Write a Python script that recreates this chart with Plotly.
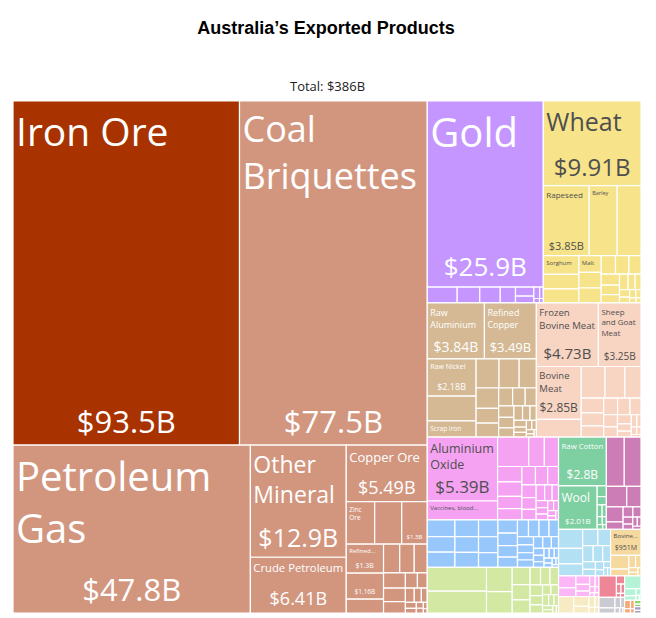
import plotly.graph_objects as go

TITLE = "<b>Australia’s Exported Products</b>"
FONT = "Open Sans"

# ---- data: one pair of lists per HS section (values in $B) ----
mineral_names = [
    "Iron Ore", "Coal Briquettes", "Petroleum Gas", "Other Mineral", "Crude Petroleum",
    "Copper Ore", "Zinc Ore", "Titanium Ore", "Manganese Ore", "Refined Petroleum",
    "Lead Ore", "Salt", "Precious Metal Ore", "Rare Earth Ore", "Coke", "Tungsten Ore",
    "Cement", "Molybdenum Ore", "Gypsum", "Kaolin", "Sand", "Limestone", "Slag",
    "Sulphur", "Granite", "Lignite", "Quartz", "Talc", "Clays",
]
mineral_values = [
    93.5, 77.5, 47.8, 12.9, 6.41, 5.49, 1.45, 1.38, 1.302, 1.298, 1.16, 0.62, 0.56,
    0.5, 0.45, 0.4, 0.35, 0.3, 0.22, 0.18, 0.15, 0.12, 0.1, 0.08, 0.06, 0.05, 0.04,
    0.03, 0.02,
]

precious_names = [
    "Gold", "Precious Metal Scrap", "Platinum", "Silver", "Jewellery", "Diamonds",
    "Precious Stones", "Pearls", "Imitation Jewellery", "Gold Clad Metals", "Coin",
]
precious_values = [25.9, 0.57, 0.43, 0.39, 0.29, 0.2, 0.15, 0.08, 0.05, 0.03, 0.02]

vegetable_names = [
    "Wheat", "Rapeseed", "Barley", "Dried Legumes", "Sorghum", "Oats", "Citrus", "Malt",
    "Nuts", "Cotton Seed", "Grapes", "Other Fruits", "Rice", "Fodder", "Flours",
    "Seeds", "Onions", "Potatoes", "Spices", "Hops", "Tea", "Coffee", "Cut Flowers",
    "Live Plants", "Other Vegetables",
]
vegetable_values = [
    9.91, 3.85, 2.35, 2.0, 0.8, 0.62, 0.6, 0.45, 0.42, 0.4, 0.32, 0.3, 0.27, 0.24,
    0.21, 0.18, 0.16, 0.13, 0.11, 0.09, 0.07, 0.06, 0.05, 0.04, 0.03,
]

metal_names = [
    "Raw Aluminium", "Refined Copper", "Raw Nickel", "Ferroalloys", "Scrap Iron",
    "Raw Zinc", "Raw Lead", "Semi-Finished Iron", "Iron Blocks", "Aluminium Plating",
    "Hot-Rolled Iron", "Scrap Aluminium", "Scrap Copper", "Aluminium Structures",
    "Iron Structures", "Titanium", "Iron Pipes", "Hand Tools", "Aluminium Bars",
    "Copper Wire", "Iron Fasteners", "Coated Flat-Rolled Iron", "Tin", "Cobalt",
    "Iron Wire", "Aluminium Foil", "Scrap Lead", "Tungsten",
]
metal_values = [
    3.84, 3.49, 2.18, 1.45, 0.95, 0.8, 0.7, 0.6, 0.55, 0.4, 0.38, 0.3, 0.27, 0.24,
    0.21, 0.19, 0.17, 0.15, 0.13, 0.11, 0.1, 0.08, 0.07, 0.06, 0.05, 0.04, 0.03, 0.02,
]

animal_names = [
    "Frozen Bovine Meat", "Sheep and Goat Meat", "Bovine Meat", "Concentrated Milk",
    "Crustaceans", "Cheese", "Edible Offal", "Molluscs", "Pig Meat", "Live Sheep",
    "Butter", "Fish Fillets", "Whey", "Honey", "Eggs", "Poultry Meat",
    "Non-fillet Frozen Fish", "Horses", "Animal Hair", "Milk", "Processed Fish",
    "Yogurt", "Animal Organs",
]
animal_values = [
    4.73, 3.25, 2.85, 0.95, 0.9, 0.75, 0.61, 0.4, 0.35, 0.3, 0.28, 0.25, 0.22, 0.2,
    0.17, 0.15, 0.12, 0.1, 0.08, 0.06, 0.05, 0.04, 0.03,
]

chemical_names = [
    "Aluminium Oxide", "Vaccines, blood, antisera, toxins and cultures",
    "Packaged Medicaments", "Radioactive Chemicals", "Hair Products", "Beauty Products",
    "Cleaning Products", "Pesticides", "Ammonia", "Antibiotics", "Essential Oils",
    "Insecticides", "Sodium Hydroxide", "Titanium Oxides", "Activated Carbon",
    "Animal Extracts", "Perfumes", "Soap", "Paints", "Glues", "Explosives", "Vitamins",
    "Enzymes", "Hormones", "Dental Products", "Ink",
]
chemical_values = [
    5.39, 1.6, 1.1, 0.55, 0.5, 0.45, 0.42, 0.36, 0.33, 0.3, 0.27, 0.24, 0.22, 0.2,
    0.18, 0.16, 0.14, 0.12, 0.1, 0.09, 0.08, 0.07, 0.06, 0.05, 0.04, 0.03,
]

machine_names = [
    "Centrifuges", "Computers", "Valves", "Gas Turbines", "Excavation Machinery",
    "Broadcasting Equipment", "Liquid Pumps", "Telephones", "Electric Generators",
    "Integrated Circuits", "Air Pumps", "Spark-Ignition Engines",
    "Electrical Control Boards", "Low-voltage Protection Equipment",
    "Machinery Having Individual Functions", "Lifting Machinery", "Computer Parts",
    "Heat Exchangers", "Air Conditioners", "Electric Motors", "Transformers",
    "Insulated Wire", "Printers", "Harvesting Machinery", "Industrial Printers",
    "Water Heaters", "Refrigerators", "Office Machine Parts", "Ball Bearings",
    "Batteries", "Electric Filament", "Washing Machines", "Microphones",
    "Video Displays", "Blank Audio Media",
]
machine_values = [
    0.55, 0.52, 0.5, 0.47, 0.45, 0.42, 0.39, 0.37, 0.34, 0.31, 0.29, 0.27, 0.24, 0.22,
    0.21, 0.2, 0.19, 0.16, 0.15, 0.14, 0.14, 0.13, 0.12, 0.1, 0.09, 0.08, 0.07, 0.06,
    0.06, 0.05, 0.05, 0.04, 0.03, 0.02, 0.02,
]

food_names = [
    "Wine", "Raw Sugar", "Animal Food", "Baked Goods", "Hard Liquor", "Fruit Juice",
    "Other Edible Preparations", "Malt Extract", "Processed Crustaceans",
    "Sauces and Seasonings", "Beer", "Chocolate", "Coffee and Tea Extracts",
    "Prepared Meat", "Pasta", "Tobacco", "Flavored Water", "Cereal Flakes",
    "Ice Cream", "Candy", "Vinegar", "Jams",
]
food_values = [
    1.7, 1.55, 0.75, 0.66, 0.37, 0.33, 0.28, 0.22, 0.2, 0.18, 0.16, 0.14, 0.12, 0.1,
    0.09, 0.08, 0.07, 0.06, 0.05, 0.04, 0.03, 0.02,
]

textile_names = [
    "Raw Cotton", "Wool", "Non-Retail Wool Yarn", "Knitted Sweaters", "Combed Wool",
    "Tents", "Rubber Textiles", "Non-Knit Suits", "Carpets", "Felt",
]
textile_values = [2.8, 2.01, 0.12, 0.09, 0.07, 0.06, 0.05, 0.04, 0.03, 0.02]

instrument_names = [
    "Orthopedic Appliances", "Medical Instruments", "Other Measuring Instruments",
    "Liquid Measurers", "Electrical Measuring Instruments", "X-Ray Equipment",
    "Optical Fibers", "Surveying Equipment", "Thermostats", "Lenses",
    "Photo Lab Equipment", "Watches", "Eyewear",
]
instrument_values = [1.06, 0.99, 0.5, 0.35, 0.3, 0.15, 0.12, 0.1, 0.08, 0.06, 0.05, 0.04, 0.03]

transport_names = [
    "Cars", "Aircraft Parts", "Vehicle Parts", "Planes, Helicopters", "Delivery Trucks",
    "Boats", "Tractors", "Trailers", "Railway Cargo Containers", "Motorcycles",
    "Buses", "Yachts", "Bicycles", "Railway Track Fixtures", "Special Purpose Vehicles",
]
transport_values = [
    0.55, 0.45, 0.35, 0.3, 0.25, 0.2, 0.18, 0.15, 0.12, 0.1, 0.08, 0.06, 0.05, 0.04, 0.03,
]

byproduct_names = [
    "Bovine, Sheep, and Goat Fat", "Rapeseed Oil", "Olive Oil", "Animal Fats",
    "Cotton Seed Oil", "Waxes", "Pig Fat", "Glycerol",
]
byproduct_values = [0.951, 0.3, 0.15, 0.1, 0.08, 0.05, 0.04, 0.03]

plastic_names = [
    "Rubber Tires", "Plastic Lids", "Ethylene Polymers", "Plastic Pipes",
    "Other Plastic Sheetings", "Raw Plastic Sheeting", "Propylene Polymers",
    "Scrap Plastic", "Rubber Belts", "Natural Rubber", "Synthetic Rubber",
]
plastic_values = [0.25, 0.18, 0.14, 0.11, 0.09, 0.07, 0.05, 0.04, 0.03, 0.02, 0.02]

paper_names = [
    "Printed Books", "Paper Containers", "Scrap Paper", "Chemical Woodpulp",
    "Other Printed Material", "Labels", "Newsprint",
]
paper_values = [0.3, 0.18, 0.12, 0.08, 0.05, 0.04, 0.03]

stone_names = ["Building Stone", "Glass Bottles", "Cement Articles", "Glass Fibers", "Ceramic Tiles", "Mica"]
stone_values = [0.45, 0.08, 0.05, 0.04, 0.02, 0.02]

misc_names = ["Prefabricated Buildings", "Seats", "Other Furniture", "Toys", "Brooms", "Pens", "Lighters"]
misc_values = [0.2, 0.1, 0.07, 0.05, 0.03, 0.02, 0.01]

wood_names = ["Sawn Wood", "Rough Wood", "Wood Chips", "Plywood", "Wood Carpentry", "Wood Charcoal"]
wood_values = [0.25, 0.1, 0.06, 0.04, 0.02, 0.01]

hide_names = ["Raw Hides", "Sheep Hides", "Leather", "Furskins"]
hide_values = [0.06, 0.04, 0.03, 0.02]

footwear_names = ["Leather Footwear", "Hats"]
footwear_values = [0.03, 0.02]

art_names = ["Paintings", "Antiques"]
art_values = [0.03, 0.02]

# section name, products, values, fill colour, text colour
WHITE = "white"
GREY = "#4f4f4f"
sections = [
    ("Mineral Products", mineral_names, mineral_values, "#D2967F", WHITE),
    ("Precious Metals", precious_names, precious_values, "#C596FF", WHITE),
    ("Vegetable Products", vegetable_names, vegetable_values, "#F7E38A", GREY),
    ("Metals", metal_names, metal_values, "#D5B994", WHITE),
    ("Animal Products", animal_names, animal_values, "#F8D4C3", GREY),
    ("Chemical Products", chemical_names, chemical_values, "#F5A2F2", GREY),
    ("Machines", machine_names, machine_values, "#98C8FB", WHITE),
    ("Foodstuffs", food_names, food_values, "#D2E8A3", GREY),
    ("Textiles", textile_names, textile_values, "#7ECFA1", WHITE),
    ("Instruments", instrument_names, instrument_values, "#CC7DB6", WHITE),
    ("Transportation", transport_names, transport_values, "#B3E1F3", GREY),
    ("Animal and Vegetable Bi-Products", byproduct_names, byproduct_values, "#F6D99E", GREY),
    ("Plastics and Rubbers", plastic_names, plastic_values, "#FCB6F5", GREY),
    ("Paper Goods", paper_names, paper_values, "#F6EBC2", GREY),
    ("Stone And Glass", stone_names, stone_values, "#EE8697", WHITE),
    ("Miscellaneous", misc_names, misc_values, "#CACAD3", GREY),
    ("Wood Products", wood_names, wood_values, "#B5F3D7", GREY),
    ("Animal Hides", hide_names, hide_values, "#F7A877", GREY),
    ("Footwear and Headwear", footwear_names, footwear_values, "#8ED86F", GREY),
    ("Arts and Antiques", art_names, art_values, "#A69EC3", GREY),
]
leaf_colors = {"Iron Ore": "#A83300"}

# which tiles carry text: shown label, label size, value size (None = no value)
text_style = {
    "Iron Ore": ("Iron Ore", 39, 31),
    "Coal Briquettes": ("Coal<br>Briquettes", 36, 31),
    "Petroleum Gas": ("Petroleum<br>Gas", 40, 31),
    "Gold": ("Gold", 40, 26),
    "Wheat": ("Wheat", 25, 24),
    "Other Mineral": ("Other<br>Mineral", 23, 25),
    "Crude Petroleum": ("Crude Petroleum", 12.5, 18),
    "Copper Ore": ("Copper Ore", 13, 18),
    "Aluminium Oxide": ("Aluminium<br>Oxide", 12.5, 17),
    "Frozen Bovine Meat": ("Frozen<br>Bovine Meat", 10, 15),
    "Sheep and Goat Meat": ("Sheep<br>and Goat<br>Meat", 8, 10),
    "Bovine Meat": ("Bovine<br>Meat", 9.5, 12),
    "Raw Aluminium": ("Raw<br>Aluminium", 9, 14),
    "Refined Copper": ("Refined<br>Copper", 9, 13),
    "Raw Nickel": ("Raw Nickel", 7, 9),
    "Scrap Iron": ("Scrap Iron", 6.5, None),
    "Rapeseed": ("Rapeseed", 8, 11),
    "Barley": ("Barley", 5.5, None),
    "Sorghum": ("Sorghum", 6, None),
    "Malt": ("Malt", 6, None),
    "Zinc Ore": ("Zinc<br>Ore", 6.5, None),
    "Manganese Ore": ("", 6, 6),
    "Refined Petroleum": ("Refined...", 6, 7),
    "Lead Ore": ("", 6, 6.5),
    "Raw Cotton": ("Raw Cotton", 8, 12),
    "Wool": ("Wool", 12, 8),
    "Vaccines, blood, antisera, toxins and cultures": ("Vaccines, blood...", 6, None),
    "Bovine, Sheep, and Goat Fat": ("Bovine...", 7, 7),
}


def money(value):
    if value >= 1:
        return f"${value:.3g}B"
    return f"${value * 1000:.3g}M"


ids, labels, parents, values, colors = [], [], [], [], []
label_text, value_text, label_size, value_size, text_colors = [], [], [], [], []

for section, names, section_values, color, text_color in sections:
    ids.append(section)
    labels.append(section)
    parents.append("")
    values.append(0)
    colors.append(color)
    label_text.append("")
    value_text.append("")
    label_size.append(10)
    value_size.append(10)
    text_colors.append(text_color)
    for name, value in zip(names, section_values):
        ids.append(f"{section}/{name}")
        labels.append(name)
        parents.append(section)
        values.append(value)
        colors.append(leaf_colors.get(name, color))
        text_colors.append(text_color)
        shown, size_label, size_value = text_style.get(name, ("", 8, None))
        label_text.append(shown)
        label_size.append(size_label)
        value_text.append(money(value) if size_value else "")
        value_size.append(size_value or 8)

total = sum(values)

common = dict(
    ids=ids,
    labels=labels,
    parents=parents,
    values=values,
    branchvalues="remainder",
    sort=True,
    tiling=dict(packing="squarify", squarifyratio=1.618, pad=0),
    pathbar=dict(visible=False),
    texttemplate="%{text}",
)

fig = go.Figure()
# tiles + product names (top left)
fig.add_trace(
    go.Treemap(
        **common,
        text=label_text,
        textposition="top left",
        textfont=dict(family=FONT, size=label_size, color=text_colors),
        marker=dict(
            colors=colors,
            line=dict(color="white", width=1.2),
            pad=dict(t=0, l=0, r=0, b=0),
        ),
        hovertemplate="%{label}<br>%{value:.3s}<extra></extra>",
    )
)
# same layout again, transparent, carrying the values (bottom centre)
fig.add_trace(
    go.Treemap(
        **common,
        text=value_text,
        textposition="bottom center",
        textfont=dict(family=FONT, size=value_size, color=text_colors),
        marker=dict(
            colors=["rgba(0,0,0,0)"] * len(ids),
            line=dict(color="rgba(0,0,0,0)", width=0),
            pad=dict(t=0, l=0, r=0, b=0),
        ),
        hoverinfo="skip",
    )
)

fig.add_annotation(
    text=f"Total: {money(total)}",
    x=0.5,
    y=1,
    xref="paper",
    yref="paper",
    yanchor="bottom",
    yshift=4,
    showarrow=False,
    font=dict(family=FONT, size=13, color="#222222"),
)
fig.update_layout(
    title=dict(
        text=TITLE,
        x=318 / 656,
        xanchor="center",
        y=1 - 20 / 618,
        yanchor="middle",
        font=dict(family="Liberation Sans, Arial", size=18, color="black"),
    ),
    width=656,
    height=618,
    margin=dict(l=5, r=23, t=93, b=13),
    paper_bgcolor="white",
    showlegend=False,
)

fig.write_html("out.html")
